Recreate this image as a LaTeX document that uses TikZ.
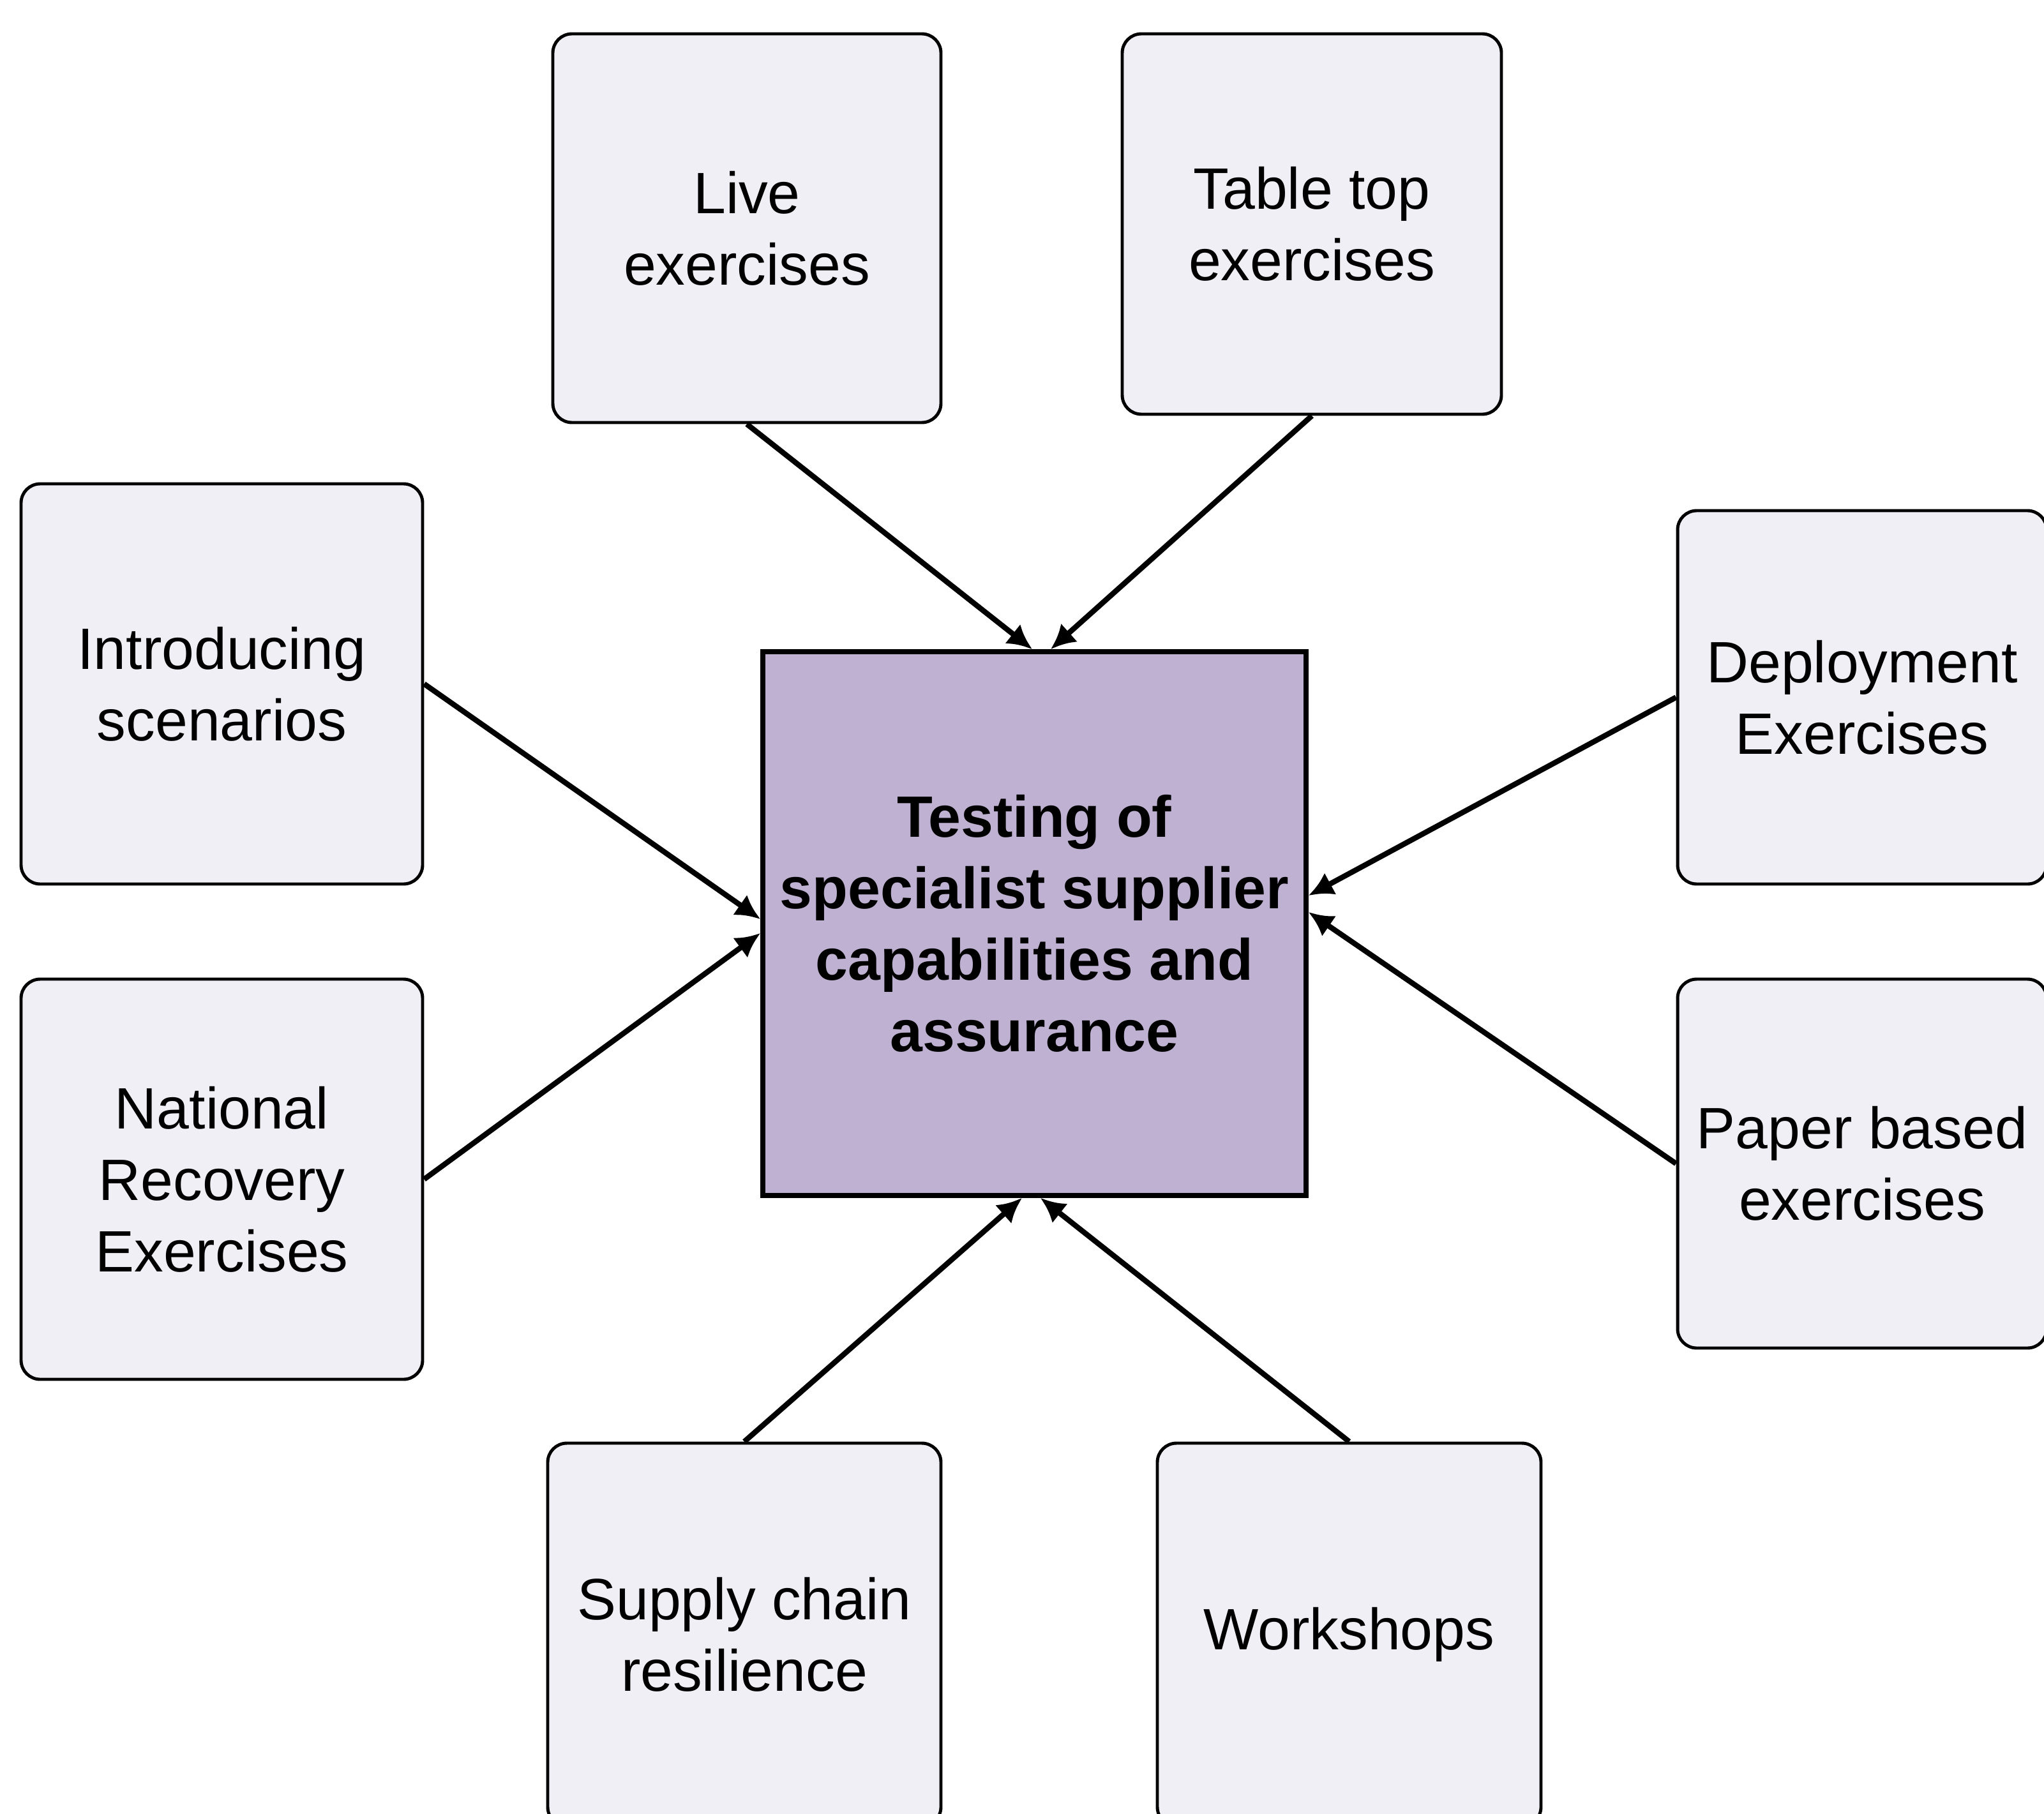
\documentclass[tikz,border=0pt]{standalone}
\usepackage{fontspec}
\setmainfont{Liberation Sans}
\usetikzlibrary{arrows.meta,calc}
\definecolor{boxfill}{RGB}{240,239,245}
\definecolor{hubfill}{RGB}{191,177,209}
\begin{document}
\begin{tikzpicture}[
  sbox/.style={draw=black, line width=1.4pt, fill=boxfill, rounded corners=0.3cm,
    align=center, inner sep=2pt, font=\fontsize{26}{31.9}\selectfont},
  hub/.style={draw=black, line width=2.2pt, fill=hubfill, align=center, inner sep=2pt,
    minimum width=8.51cm, minimum height=8.52cm, font=\fontsize{26}{31.9}\selectfont\bfseries},
  conn/.style={line width=2.4pt, -{Latex[length=11pt,width=11pt]}}
]
\clip (0,0) rectangle (32.02,-28.41);
\fill[white] (0,0) rectangle (32.02,-28.41);

\node[hub] (hub) at (16.205,-14.47) {Testing of\\specialist supplier\\capabilities and\\assurance};

\node[sbox, minimum width=6.08cm, minimum height=6.09cm] (live) at (11.70,-3.575) {Live\\exercises};
\node[sbox, minimum width=5.94cm, minimum height=5.96cm] (table) at (20.55,-3.51) {Table top\\exercises};
\node[sbox, minimum width=6.29cm, minimum height=6.27cm] (intro) at (3.475,-10.715) {Introducing\\scenarios};
\node[sbox, minimum width=6.29cm, minimum height=6.27cm] (national) at (3.475,-18.475) {National\\Recovery\\Exercises};
\node[sbox, minimum width=5.78cm, minimum height=5.85cm] (deploy) at (29.17,-10.925) {Deployment\\Exercises};
\node[sbox, minimum width=5.78cm, minimum height=5.78cm] (paper) at (29.17,-18.23) {Paper based\\exercises};
\node[sbox, minimum width=6.16cm, minimum height=6.0cm] (supply) at (11.66,-25.61) {Supply chain\\resilience};
\node[sbox, minimum width=6.01cm, minimum height=6.0cm] (work) at (21.135,-25.61) {Workshops};

\draw[conn] (live.south) -- ($(hub.north)+(-0.035,0)$);
\draw[conn] (table.south) -- ($(hub.north)+(0.255,0)$);
\draw[conn] (intro.east) -- ($(hub.west)+(0,0.07)$);
\draw[conn] (national.east) -- ($(hub.west)+(0,-0.15)$);
\draw[conn] (deploy.west) -- ($(hub.east)+(0,0.44)$);
\draw[conn] (paper.west) -- ($(hub.east)+(0,0.18)$);
\draw[conn] (supply.north) -- ($(hub.south)+(-0.195,0)$);
\draw[conn] (work.north) -- ($(hub.south)+(0.095,0)$);
\end{tikzpicture}
\end{document}
